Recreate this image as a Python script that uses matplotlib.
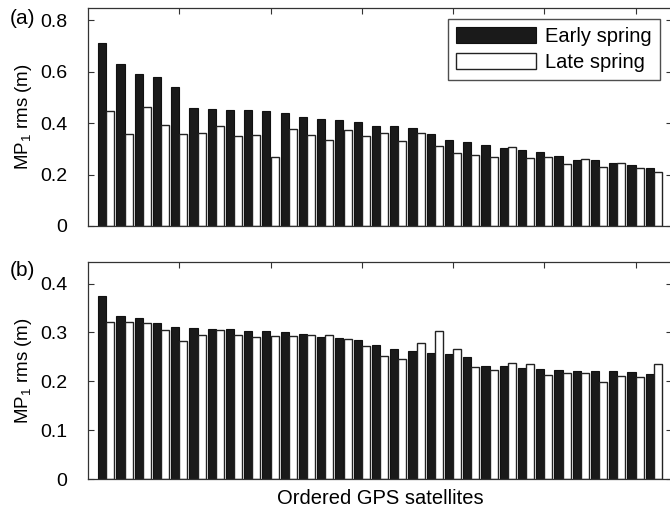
import numpy as np
import matplotlib
matplotlib.use("Agg")
import matplotlib.pyplot as plt

plt.rcParams['font.family'] = ['Liberation Sans', 'DejaVu Sans']
plt.rcParams['mathtext.fontset'] = 'custom'
plt.rcParams['mathtext.rm'] = 'Liberation Sans'
plt.rcParams['mathtext.it'] = 'Liberation Sans'

satellites = np.arange(1, 32)

early_a = [0.712, 0.629, 0.591, 0.578, 0.539, 0.458, 0.453, 0.450, 0.450, 0.448, 0.440,
           0.425, 0.414, 0.410, 0.406, 0.390, 0.390, 0.382, 0.357, 0.333, 0.326,
           0.316, 0.304, 0.294, 0.287, 0.272, 0.256, 0.256, 0.245, 0.237, 0.226]
late_a = [0.447, 0.356, 0.463, 0.393, 0.356, 0.360, 0.387, 0.351, 0.355, 0.267, 0.375,
          0.352, 0.335, 0.374, 0.350, 0.361, 0.329, 0.361, 0.310, 0.283, 0.274,
          0.269, 0.307, 0.263, 0.268, 0.240, 0.260, 0.229, 0.243, 0.225, 0.208]

early_b = [0.374, 0.333, 0.329, 0.319, 0.310, 0.309, 0.307, 0.306, 0.303, 0.303, 0.300,
           0.297, 0.290, 0.289, 0.285, 0.275, 0.266, 0.262, 0.258, 0.255, 0.250,
           0.232, 0.232, 0.228, 0.225, 0.223, 0.222, 0.220, 0.220, 0.219, 0.215]
late_b = [0.321, 0.321, 0.320, 0.304, 0.282, 0.294, 0.304, 0.294, 0.291, 0.292, 0.292,
          0.295, 0.295, 0.286, 0.273, 0.251, 0.245, 0.279, 0.303, 0.265, 0.229,
          0.224, 0.238, 0.235, 0.212, 0.217, 0.217, 0.198, 0.210, 0.208, 0.236]

W, H = 670, 512
fig = plt.figure(figsize=(W / 100, H / 100), dpi=100)

AX_L, AX_R = 88, 672

def px_axes(left, top, right, bottom):
    return fig.add_axes([left / W, 1 - bottom / H, (right - left) / W, (bottom - top) / H])

ax_a = px_axes(AX_L, 8, AX_R, 226)
ax_b = px_axes(AX_L, 262, AX_R, 479)

bw = 0.44
spine_col = '#333333'
FS = 14

def draw(ax, early, late, ylim, yticks, yticklabels, tag, tag_y):
    ax.bar(satellites - bw / 2, early, width=bw, color='#1a1a1a', edgecolor='#111111',
           linewidth=0.8, label='Early spring', zorder=2)
    ax.bar(satellites + bw / 2, late, width=bw, color='white', edgecolor='#222222',
           linewidth=1.0, label='Late spring', zorder=2)
    ax.set_xlim(0, 32)
    ax.set_ylim(*ylim)
    ax.set_yticks(yticks)
    ax.set_yticklabels(yticklabels)
    ax.set_xticks([5, 10, 15, 20, 25, 30])
    ax.set_xticklabels([])
    ax.tick_params(direction='in', length=4, width=0.8, color=spine_col,
                   top=True, right=True, labelsize=FS, pad=15)
    for s in ax.spines.values():
        s.set_color(spine_col)
        s.set_linewidth(0.9)
    ax.set_ylabel('MP$_1$ rms (m)', fontsize=13.5, labelpad=4)
    fig.text(10 / W, 1 - tag_y / H, tag, fontsize=15, va='center', ha='left')

draw(ax_a, early_a, late_a, (0, 0.847), [0, 0.2, 0.4, 0.6, 0.8],
     ['0', '0.2', '0.4', '0.6', '0.8'], '(a)', 19)
draw(ax_b, early_b, late_b, (0, 0.444), [0, 0.1, 0.2, 0.3, 0.4],
     ['0', '0.1', '0.2', '0.3', '0.4'], '(b)', 270)

aw = AX_R - AX_L
leg = ax_a.legend(loc='upper right', bbox_to_anchor=((660 - AX_L) / aw, (226 - 19) / 218),
                  fontsize=14.5, frameon=True, fancybox=False, handlelength=4.0,
                  handleheight=0.8, borderpad=0.4, labelspacing=0.35,
                  handletextpad=0.45, borderaxespad=0)
leg.get_frame().set_edgecolor('#222222')
leg.get_frame().set_linewidth(1.0)

ax_b.set_xlabel('Ordered GPS satellites', fontsize=14.5)
ax_b.xaxis.set_label_coords(0.5, -(499 - 479) / 217)
ax_b.xaxis.label.set_va('center')

fig.savefig('out.png', dpi=100)
